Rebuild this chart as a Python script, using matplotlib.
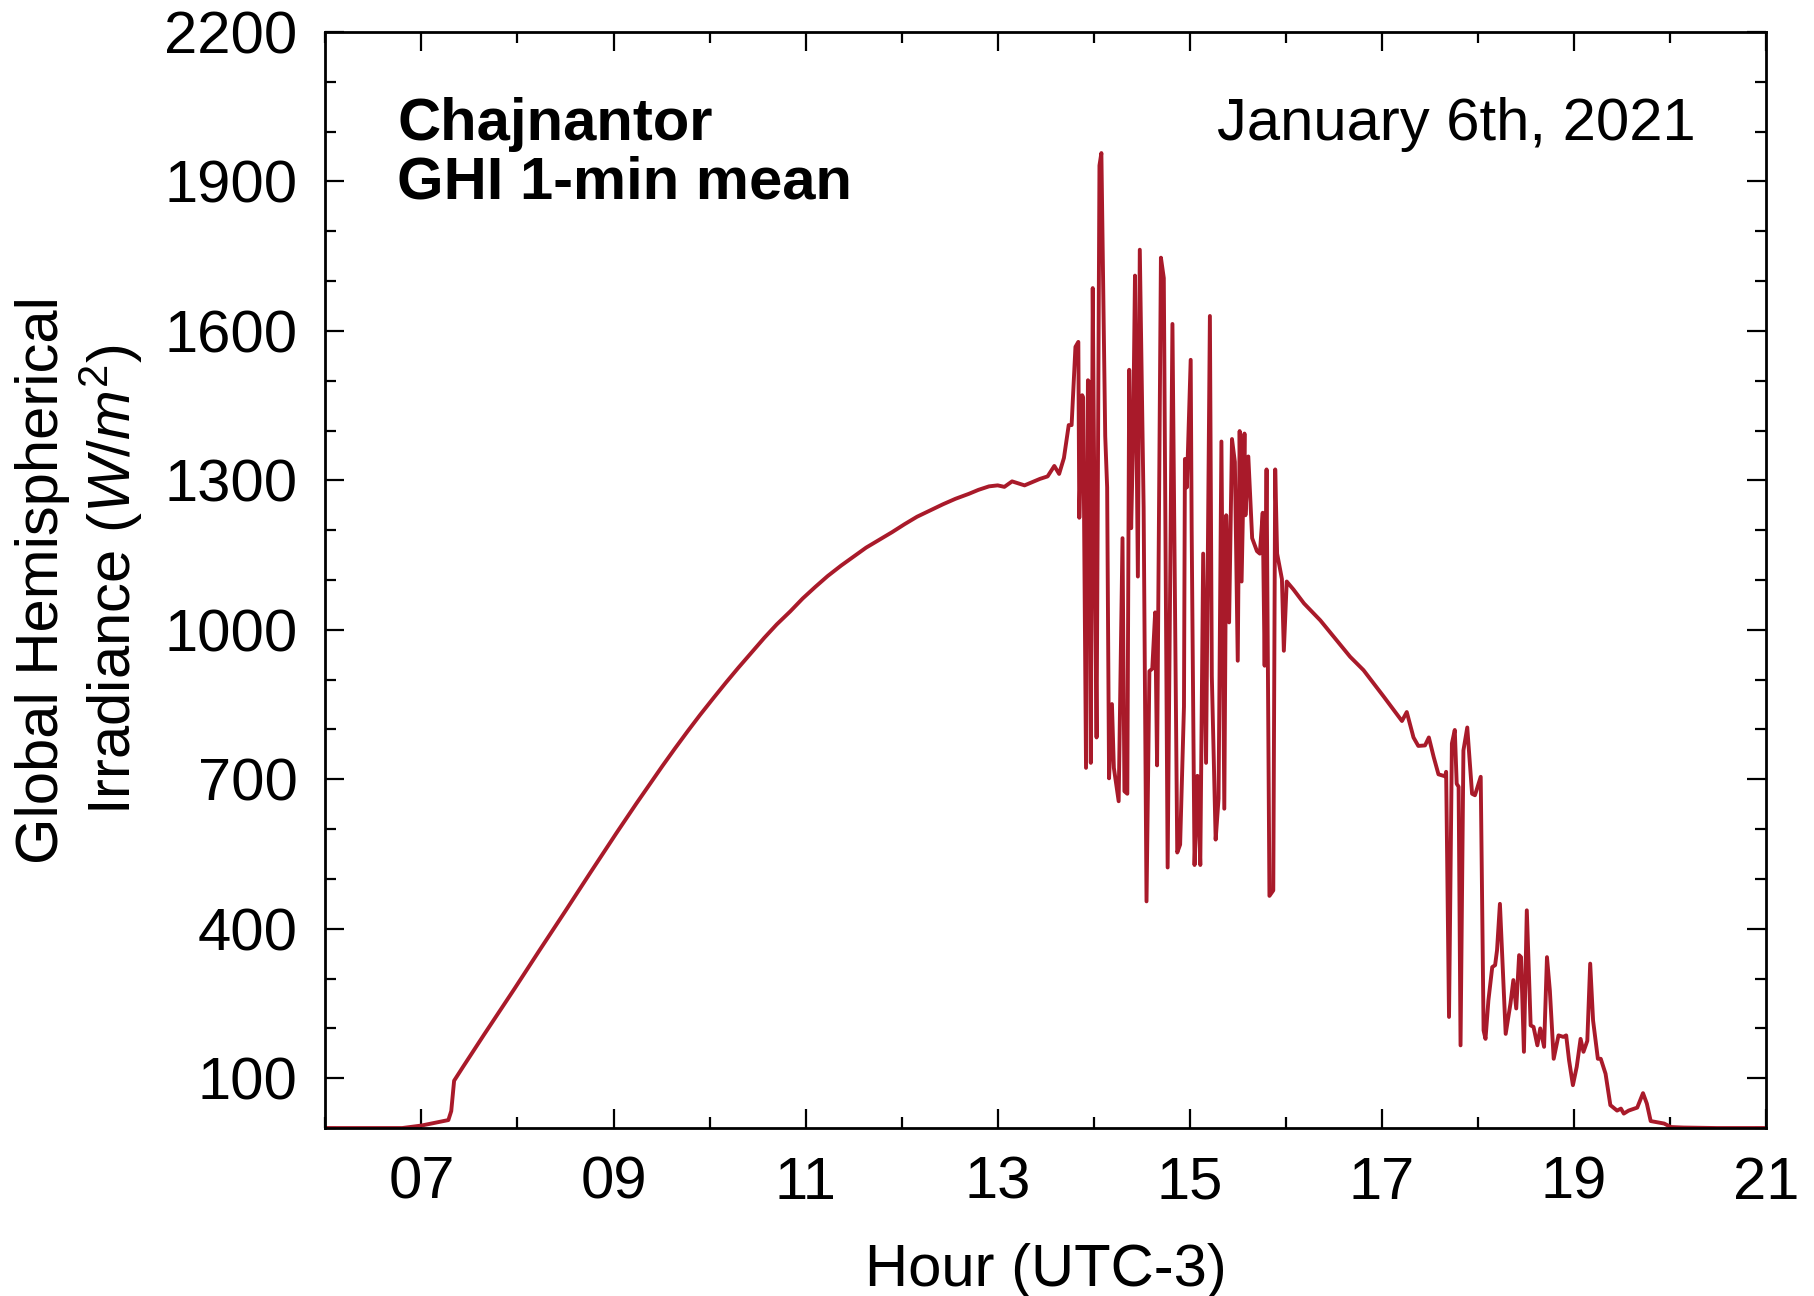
"""
GHI 1-min mean at Chajnantor, January 6th 2021.
Writes out.png (1814x1296).
"""

import matplotlib
matplotlib.use("Agg")
import matplotlib.pyplot as plt
from matplotlib.ticker import MultipleLocator, FixedLocator

# ---------------------------------------------------------------------------
# data (hour UTC-3, W/m^2)
hours = [
    6.00, 6.80, 7.00, 7.28, 7.31, 7.34, 7.43, 7.65, 7.97, 8.23, 8.50, 8.76,
    9.03, 9.24, 9.51, 9.64, 9.77, 9.90, 10.04, 10.17, 10.30, 10.44, 10.57,
    10.70, 10.84, 10.97, 11.10, 11.23, 11.37, 11.50, 11.63, 11.77, 11.90,
    12.03, 12.16, 12.30, 12.43, 12.56, 12.70, 12.80, 12.91, 13.00, 13.07,
    13.15, 13.28, 13.44, 13.52,
    13.59, 13.64, 13.69, 13.74, 13.77, 13.81, 13.84, 13.85, 13.88, 13.89,
    13.92, 13.94, 13.96, 13.97, 13.99, 14.01, 14.03, 14.06, 14.08, 14.12,
    14.14, 14.16, 14.19, 14.21, 14.26, 14.30, 14.32, 14.35, 14.37, 14.39,
    14.41, 14.43, 14.46, 14.48, 14.52, 14.55, 14.58, 14.61, 14.64, 14.66,
    14.70, 14.73, 14.77, 14.82, 14.87, 14.90, 14.94, 14.95, 14.97, 15.01,
    15.02, 15.05, 15.08, 15.11, 15.14, 15.17, 15.21, 15.23, 15.27, 15.30,
    15.33, 15.36, 15.38, 15.41, 15.44, 15.47, 15.50, 15.52, 15.54, 15.57,
    15.58, 15.61, 15.65, 15.70, 15.73, 15.76, 15.78, 15.80, 15.83, 15.87,
    15.89, 15.91, 15.96, 15.98, 16.01, 16.08, 16.19, 16.36, 16.50, 16.67,
    16.81, 17.02, 17.21, 17.26, 17.33, 17.38, 17.45, 17.49, 17.54, 17.59,
    17.66, 17.67, 17.70, 17.73, 17.76, 17.78, 17.80, 17.82, 17.85, 17.89,
    17.94, 17.97, 18.03, 18.06, 18.08, 18.11, 18.15, 18.18, 18.20, 18.23,
    18.29, 18.34, 18.37, 18.40, 18.43, 18.45, 18.48, 18.51, 18.55, 18.58,
    18.62, 18.65, 18.69, 18.72, 18.75, 18.79, 18.84, 18.89, 18.92, 18.95,
    18.99, 19.03, 19.07, 19.10, 19.14, 19.17, 19.20, 19.25, 19.28, 19.33,
    19.38, 19.45, 19.49, 19.52, 19.57, 19.66, 19.72, 19.76, 19.80, 19.94,
    20.01, 20.14, 20.49, 21.00,
]
ghi = [
    0, 0, 5, 16, 34, 95, 122, 187, 280, 357, 436, 513,
    592, 652, 727, 762, 796, 829, 863, 894, 924, 955, 984,
    1011, 1037, 1063, 1086, 1108, 1129, 1147, 1165, 1181, 1196,
    1212, 1227, 1240, 1252, 1263, 1273, 1281, 1288, 1290, 1287,
    1298, 1290, 1303, 1308,
    1329, 1313, 1345, 1411, 1411, 1568, 1578, 1225, 1471, 1466,
    723, 1501, 1496, 733, 1686, 1189, 784, 1932, 1957, 1389,
    1286, 702, 851, 723, 656, 1184, 676, 671, 1522, 1204,
    1383, 1711, 1107, 1763, 1245, 455, 917, 922, 1035, 728,
    1747, 1706, 523, 1614, 553, 569, 846, 1343, 1286, 1542,
    1204, 528, 707, 528, 1153, 733, 1630, 907, 579, 661,
    1378, 641, 1230, 1015, 1383, 1337, 938, 1399, 1097, 1394,
    1230, 1348, 1184, 1158, 1153, 1235, 928, 1322, 466, 477,
    1322, 1153, 1102, 958, 1097, 1081, 1053, 1019, 986, 946,
    919, 866, 817, 835, 784, 767, 768, 784, 745, 710,
    706, 715, 223, 772, 799, 691, 685, 166, 758, 804,
    671, 668, 705, 196, 179, 256, 323, 327, 357, 450,
    189, 250, 297, 240, 347, 343, 153, 437, 206, 203,
    166, 200, 163, 343, 276, 139, 186, 183, 186, 136,
    86, 123, 179, 153, 175, 330, 216, 139, 139, 109,
    46, 35, 39, 29, 35, 41, 70, 49, 14, 9,
    2, 1, 0, 0,
]

x_major = [7, 9, 11, 13, 15, 17, 19, 21]
x_labels = ["07", "09", "11", "13", "15", "17", "19", "21"]
y_major = [100, 400, 700, 1000, 1300, 1600, 1900, 2200]

LINE_COLOR = "#a91a2a"

# ---------------------------------------------------------------------------
plt.rcParams["font.family"] = ["Liberation Sans", "DejaVu Sans"]
plt.rcParams["mathtext.fontset"] = "custom"
plt.rcParams["mathtext.rm"] = "Liberation Sans"
plt.rcParams["mathtext.it"] = "Liberation Sans:italic"

fig = plt.figure(figsize=(18.14, 12.96), dpi=100)
ax = fig.add_axes([0.1794, 0.1296, 0.7941, 0.8457])

ax.plot(hours, ghi, color=LINE_COLOR, linewidth=2.8, solid_joinstyle="round")

ax.set_xlim(6, 21)
ax.set_ylim(0, 2200)

ax.xaxis.set_major_locator(FixedLocator(x_major))
ax.set_xticklabels(x_labels)
ax.xaxis.set_minor_locator(MultipleLocator(1))
ax.yaxis.set_major_locator(FixedLocator(y_major))
ax.yaxis.set_minor_locator(MultipleLocator(100))

ax.tick_params(which="both", direction="in", top=True, right=True,
               labelsize=43, width=1.6, color="black")
ax.tick_params(which="major", length=14, pad=20)
ax.tick_params(which="minor", length=8)
for spine in ax.spines.values():
    spine.set_linewidth(2.0)

ax.set_xlabel("Hour (UTC-3)", fontsize=43)
ax.xaxis.set_label_coords(0.500, -0.105)
ax.xaxis.label.set_verticalalignment("top")

ax.set_ylabel("Global Hemispherical\nIrradiance ($W/m^2$)", fontsize=43,
              linespacing=1.15)
ax.yaxis.set_label_coords(-0.125, 0.5)

ax.text(0.050, 0.941, "Chajnantor\nGHI 1-min mean", transform=ax.transAxes,
        fontsize=43, fontweight="bold", ha="left", va="top", linespacing=1.1)
ax.text(0.951, 0.941, "January 6th, 2021", transform=ax.transAxes,
        fontsize=43, ha="right", va="top")

fig.savefig("out.png", dpi=100, facecolor="white")
plt.close(fig)
